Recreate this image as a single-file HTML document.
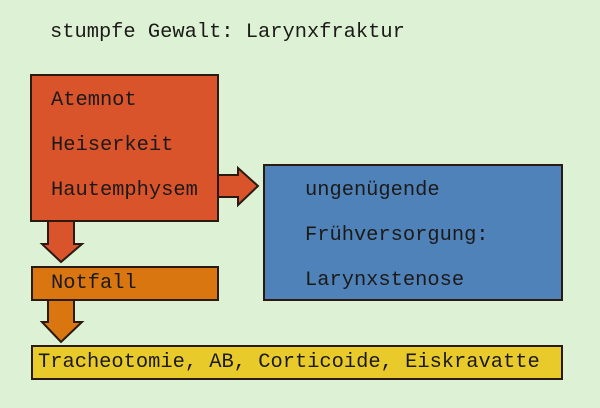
<!DOCTYPE html>
<html><head><style>
body{margin:0;width:600px;height:408px;background:#ddf2d4;position:relative;overflow:hidden;font-family:"Liberation Mono",monospace;font-size:20.4px;color:#1c1a18}
.b{position:absolute;box-sizing:border-box;border:2px solid #2a1a12}
.t{position:absolute;line-height:20px;white-space:pre}
</style></head><body>
<div class="t" style="left:50px;top:23px">stumpfe Gewalt: Larynxfraktur</div>
<svg width="600" height="408" style="position:absolute;left:0;top:0">
<g stroke="#2a1a12" stroke-width="2" stroke-linejoin="miter">
<polygon points="217,175 238,175 238,168 258,186 238,205 238,197 217,197" fill="#d9542a"/>
<polygon points="48,220 74,220 74,244 82,244 61,262 42,244 48,244" fill="#d9542a"/>
<polygon points="48,299 74,299 74,322 82,322 61,342 42,322 48,322" fill="#d9760f"/>
</g>
</svg>
<div class="b" style="left:30px;top:74px;width:189px;height:148px;background:#d9542a"></div>
<div class="b" style="left:31px;top:266px;width:188px;height:35px;background:#d9760f"></div>
<div class="b" style="left:263px;top:164px;width:300px;height:137px;background:#4f82b9"></div>
<div class="b" style="left:31px;top:345px;width:532px;height:35px;background:#e8cb2a"></div>
<div class="t" style="left:51px;top:91px">Atemnot</div>
<div class="t" style="left:51px;top:136px">Heiserkeit</div>
<div class="t" style="left:51px;top:181px">Hautemphysem</div>
<div class="t" style="left:51px;top:274px">Notfall</div>
<div class="t" style="left:305px;top:181px">ungenügende</div>
<div class="t" style="left:305px;top:226px">Frühversorgung:</div>
<div class="t" style="left:305px;top:271px">Larynxstenose</div>
<div class="t" style="left:38px;top:353px">Tracheotomie, AB, Corticoide, Eiskravatte</div>
</body></html>
